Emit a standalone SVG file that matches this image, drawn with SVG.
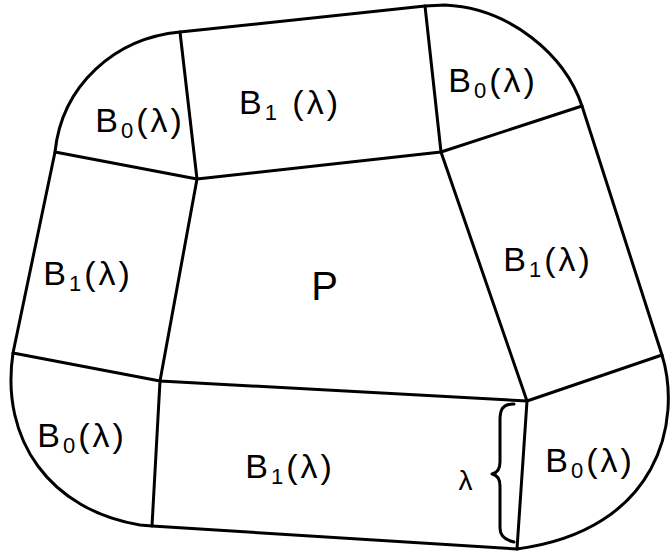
<svg xmlns="http://www.w3.org/2000/svg" width="670" height="553" viewBox="0 0 670 553">
<style>
.ln{fill:none;stroke:#000;stroke-width:3;stroke-linecap:round;stroke-linejoin:round}
.lb{font-family:"Liberation Sans","DejaVu Sans",sans-serif;font-size:34px;fill:#000;letter-spacing:3px}
.sub{font-size:22px}
</style>
<rect width="670" height="553" fill="#fff"/>
<g id="connectors">
<path class="ln" d="M55,152 C62,85 115,38 180,32 L425,6 L445,5 C510,8 565,55 582,106 L662,355 C682,420 660,530 517,549 L152,526 L140,525 C50,510 0,440 13,353 Z"/>
<path class="ln" d="M180,32 L197,179 M425,6 L441,152 M55,152 L197,179 M582,106 L441,152 M197,179 L441,152 M197,179 L160,381 M441,152 L527,401 M13,353 L160,381 M662,355 L527,401 M160,381 L527,401 M160,381 L152,526 M527,401 L517,549"/>
<path class="ln" stroke-width="2.5" d="M514,404 C502,404 500,410 500,420 L500,462 C500,470 497,473 492,474 C497,475 500,478 500,486 L500,528 C500,536 505,540 514,542"/>
</g>
<g id="P"><text class="lb" x="326" y="300" text-anchor="middle" style="font-size:40px">P</text></g>
<g id="B0-tl"><text class="lb" x="140" y="132" text-anchor="middle">B<tspan class="sub" dy="6">0</tspan><tspan dy="-6">(λ)</tspan></text></g>
<g id="B1-top"><text class="lb" x="290" y="114" text-anchor="middle">B<tspan class="sub" dy="6">1</tspan><tspan dy="-6"> (λ)</tspan></text></g>
<g id="B0-tr"><text class="lb" x="493" y="92" text-anchor="middle">B<tspan class="sub" dy="6">0</tspan><tspan dy="-6">(λ)</tspan></text></g>
<g id="B1-left"><text class="lb" x="88" y="285" text-anchor="middle">B<tspan class="sub" dy="6">1</tspan><tspan dy="-6">(λ)</tspan></text></g>
<g id="B1-right"><text class="lb" x="548" y="271" text-anchor="middle">B<tspan class="sub" dy="6">1</tspan><tspan dy="-6">(λ)</tspan></text></g>
<g id="B0-bl"><text class="lb" x="82" y="447" text-anchor="middle">B<tspan class="sub" dy="6">0</tspan><tspan dy="-6">(λ)</tspan></text></g>
<g id="B1-bottom"><text class="lb" x="290" y="478" text-anchor="middle">B<tspan class="sub" dy="6">1</tspan><tspan dy="-6">(λ)</tspan></text></g>
<g id="B0-br"><text class="lb" x="590" y="472" text-anchor="middle">B<tspan class="sub" dy="6">0</tspan><tspan dy="-6">(λ)</tspan></text></g>
<g id="lambda"><text class="lb" x="467" y="490" text-anchor="middle" style="font-size:28px">λ</text></g>
</svg>
